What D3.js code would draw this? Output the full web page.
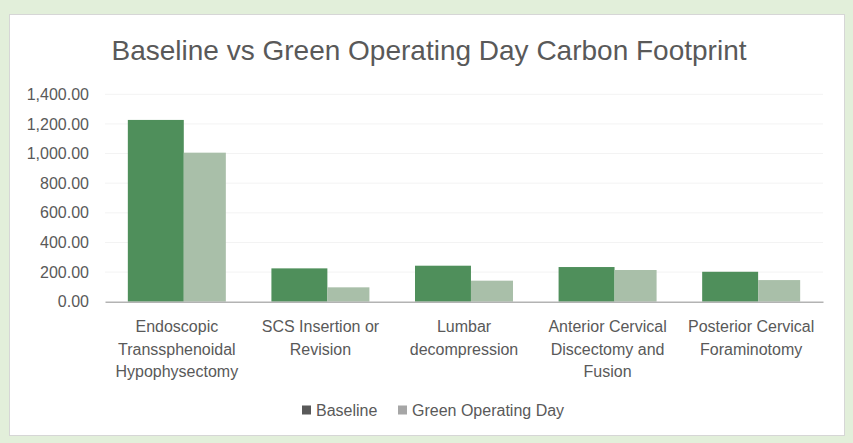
<!DOCTYPE html>
<html>
<head>
<meta charset="utf-8">
<script src="https://cdn.jsdelivr.net/npm/d3@7"></script>
<style>
  html, body { margin: 0; padding: 0; background: #e2efda; }
  svg { display: block; }
  text { font-family: "Liberation Sans", Arial, sans-serif; fill: #595959; }
</style>
</head>
<body>
<svg id="chart" width="853" height="443"></svg>
<script>
// ---- data ----
const categories = [
  "Endoscopic Transsphenoidal Hypophysectomy",
  "SCS Insertion or Revision",
  "Lumbar decompression",
  "Anterior Cervical Discectomy and Fusion",
  "Posterior Cervical Foraminotomy"
];
const categoryLines = [
  ["Endoscopic", "Transsphenoidal", "Hypophysectomy"],
  ["SCS Insertion or", "Revision"],
  ["Lumbar", "decompression"],
  ["Anterior Cervical", "Discectomy and", "Fusion"],
  ["Posterior Cervical", "Foraminotomy"]
];
const seriesNames = ["Baseline", "Green Operating Day"];
const baseline = [1227, 225, 243, 234, 202];
const greenDay = [1006, 97, 142, 214, 146];
const yTicks = [0, 200, 400, 600, 800, 1000, 1200, 1400];

// ---- drawing ----
const W = 853, H = 443;
const svg = d3.select("#chart");

svg.append("rect").attr("x", 0).attr("y", 0).attr("width", W).attr("height", H).attr("fill", "#e2efda");
svg.append("rect").attr("x", 9.5).attr("y", 14.5).attr("width", 835).attr("height", 421)
  .attr("fill", "#ffffff").attr("stroke", "#d6d6d6").attr("stroke-width", 1);

svg.append("text")
  .attr("x", 429).attr("y", 60)
  .attr("text-anchor", "middle")
  .style("font-size", "28px")
  .text("Baseline vs Green Operating Day Carbon Footprint");

const plotLeft = 105, plotRight = 823, plotBottom = 301.7, plotTop = 94.3;

const y = d3.scaleLinear().domain([0, 1400]).range([plotBottom, plotTop]);
const x0 = d3.scaleBand().domain(categories).range([plotLeft, plotRight])
  .paddingInner(0.3175).paddingOuter(0.159);
// sub-positions of the two series inside a band (fractions of bandwidth)
const xs = d3.scaleLinear().domain([0, 1]).range([0, x0.bandwidth()]);
const seriesSplit = [[0, 0.571], [0.571, 1]];
const colors = ["#4f8f5b", "#a9bfa9"];
const legendColors = ["#595959", "#a6a6a6"];

// gridlines (very faint)
svg.append("g").selectAll("line").data(yTicks.filter(d => d > 0)).join("line")
  .attr("x1", plotLeft).attr("x2", plotRight)
  .attr("y1", d => y(d)).attr("y2", d => y(d))
  .attr("stroke", "#f3f3f3").attr("stroke-width", 1);

// y axis labels
const yAxis = d3.axisLeft(y).tickValues(yTicks).tickFormat(d3.format(",.2f")).tickSize(0).tickPadding(0);
const gy = svg.append("g").attr("transform", "translate(89,0)").call(yAxis);
gy.select(".domain").remove();
gy.selectAll("text").style("font-size", "16px").attr("fill", "#595959")
  .style("font-family", "'Liberation Sans', Arial, sans-serif");

// bars
const seriesData = [baseline, greenDay];
seriesData.forEach((vals, si) => {
  svg.append("g").selectAll("rect").data(categories).join("rect")
    .attr("x", c => x0(c) + xs(seriesSplit[si][0]))
    .attr("width", xs(seriesSplit[si][1]) - xs(seriesSplit[si][0]))
    .attr("y", (c, i) => y(vals[i]))
    .attr("height", (c, i) => y(0) - y(vals[i]))
    .attr("fill", colors[si]);
});

// x axis line
const xAxis = d3.axisBottom(x0).tickSize(0).tickFormat("");
const gx = svg.append("g").attr("transform", `translate(0,${plotBottom})`).call(xAxis);
gx.select(".domain").attr("stroke", "#b3b3b3").attr("stroke-width", 1.5);

// category labels
const labels = svg.append("g").selectAll("text").data(categories).join("text")
  .attr("text-anchor", "middle")
  .style("font-size", "16px")
  .attr("x", c => x0(c) + x0.bandwidth() / 2)
  .attr("y", 332);
labels.each(function(c, i) {
  const t = d3.select(this);
  categoryLines[i].forEach((line, li) => {
    t.append("tspan").attr("x", x0(c) + x0.bandwidth() / 2)
      .attr("dy", li === 0 ? 0 : 22.5).text(line);
  });
});

// legend
const legendX = [302, 398];
const lg = svg.append("g");
seriesNames.forEach((name, i) => {
  lg.append("rect").attr("x", legendX[i]).attr("y", 405.5).attr("width", 9).attr("height", 9)
    .attr("fill", legendColors[i]);
  lg.append("text").attr("x", legendX[i] + 14).attr("y", 415.5)
    .style("font-size", "16px").text(name);
});
</script>
</body>
</html>
